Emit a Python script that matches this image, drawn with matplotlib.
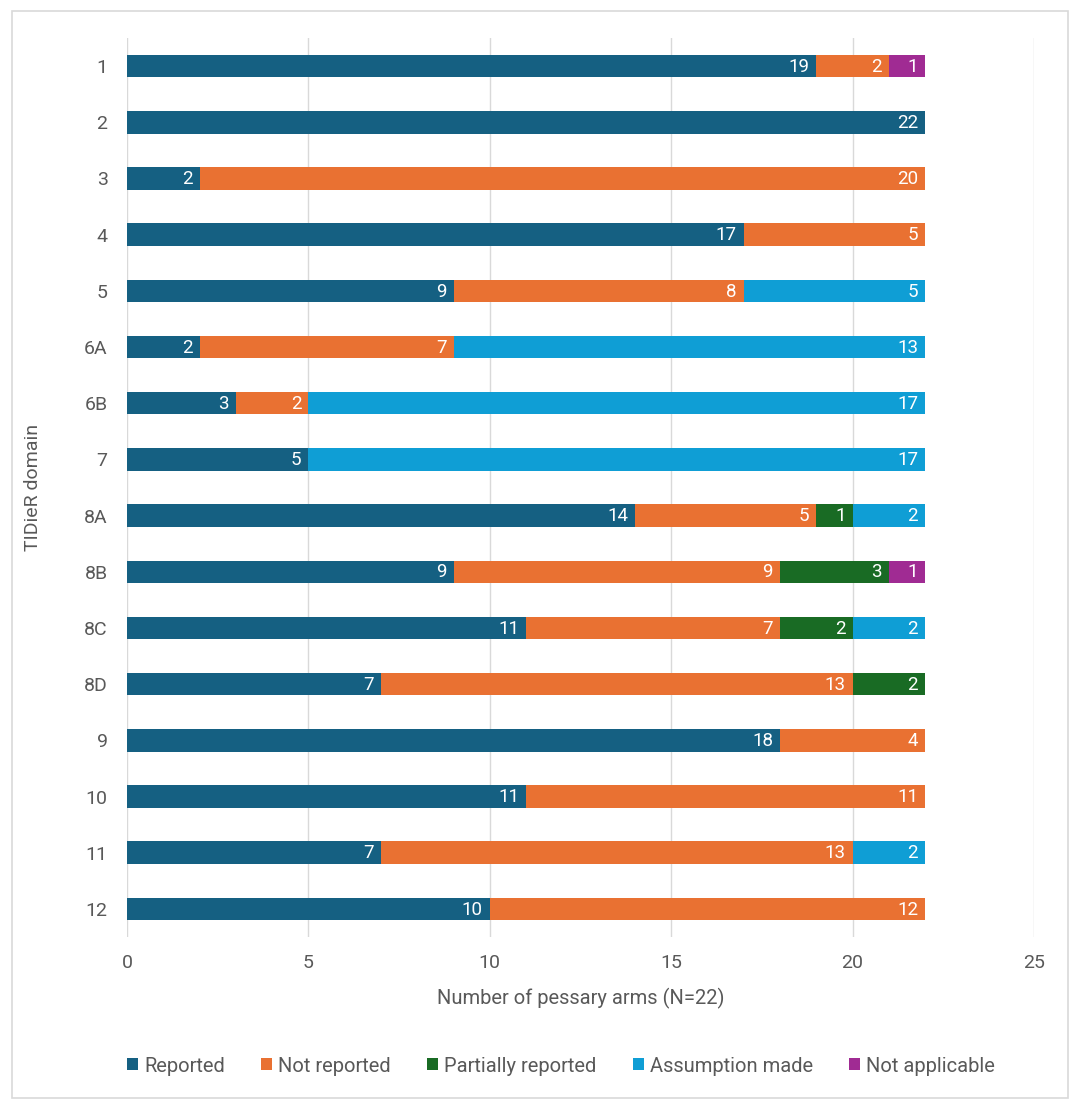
"""
plot.py — TIDieR reporting per domain (stacked horizontal bars)
"""

import matplotlib
matplotlib.use("Agg")
import matplotlib.pyplot as plt
from matplotlib.patches import Rectangle

plt.rcParams["font.family"] = ["Roboto", "DejaVu Sans"]

# ─────────────────────────────────────────────────────────────
# Data
# ─────────────────────────────────────────────────────────────
domains = ["1", "2", "3", "4", "5", "6A", "6B", "7",
           "8A", "8B", "8C", "8D", "9", "10", "11", "12"]

reported = [19, 22, 2, 17, 9, 2, 3, 5, 14, 9, 11, 7, 18, 11, 7, 10]
not_reported = [2, 0, 20, 5, 8, 7, 2, 0, 5, 9, 7, 13, 4, 11, 13, 12]
partially = [0, 0, 0, 0, 0, 0, 0, 0, 1, 3, 2, 2, 0, 0, 0, 0]
assumption = [0, 0, 0, 0, 5, 13, 17, 17, 2, 0, 2, 0, 0, 0, 2, 0]
not_applicable = [1, 0, 0, 0, 0, 0, 0, 0, 0, 1, 0, 0, 0, 0, 0, 0]

series = [
    ("Reported", reported, "#156082"),
    ("Not reported", not_reported, "#E97132"),
    ("Partially reported", partially, "#196B24"),
    ("Assumption made", assumption, "#0F9ED5"),
    ("Not applicable", not_applicable, "#A02B93"),
]

x_ticks = [0, 5, 10, 15, 20, 25]

# ─────────────────────────────────────────────────────────────
# Figure
# ─────────────────────────────────────────────────────────────
W, H = 1080, 1109
fig = plt.figure(figsize=(W / 100, H / 100), dpi=100)
ax = fig.add_axes([127 / W, 1 - 937 / H, (1034 - 127) / W, (937 - 38) / H])

# outer frame
fig.patches.append(Rectangle((12 / W, 11 / H), 1056 / W, 1087 / H,
                             transform=fig.transFigure, fill=False,
                             edgecolor="#D9D9D9", linewidth=1.2))

ypos = list(range(len(domains)))
left = [0] * len(domains)
for name, vals, color in series:
    ax.barh(ypos, vals, left=left, height=0.4, color=color, label=name, zorder=3)
    for i, v in enumerate(vals):
        if v > 0:
            ax.annotate(str(v), (left[i] + v, i), xytext=(-5, -0.5),
                        textcoords="offset points", ha="right", va="center",
                        color="white", fontsize=13.5, zorder=4)
    left = [a + b for a, b in zip(left, vals)]

ax.set_xlim(0, 25)
ax.set_ylim(len(domains) - 0.5, -0.5)
ax.set_xticks(x_ticks)
ax.set_yticks(ypos)
ax.set_yticklabels(domains)
ax.tick_params(axis="both", length=0, labelsize=14, colors="#595959")
ax.tick_params(axis="x", pad=12)
ax.tick_params(axis="y", pad=14)
ax.grid(axis="x", color="#D9D9D9", linewidth=1, zorder=0)
for s in ax.spines.values():
    s.set_visible(False)

ax.set_xlabel("Number of pessary arms (N=22)", fontsize=14.5, color="#595959", labelpad=12)
fig.text(33 / W, 1 - 487 / H, "TIDieR domain", rotation=90, fontsize=14,
         color="#595959", ha="center", va="center")

fig.legend(loc="center", bbox_to_anchor=(561 / W, 1 - 1066 / H), ncol=5,
           frameon=False, fontsize=14.5, handlelength=0.55, handleheight=0.55,
           handletextpad=0.3, columnspacing=1.8, labelcolor="#595959")

fig.savefig("out.png", dpi=100)
